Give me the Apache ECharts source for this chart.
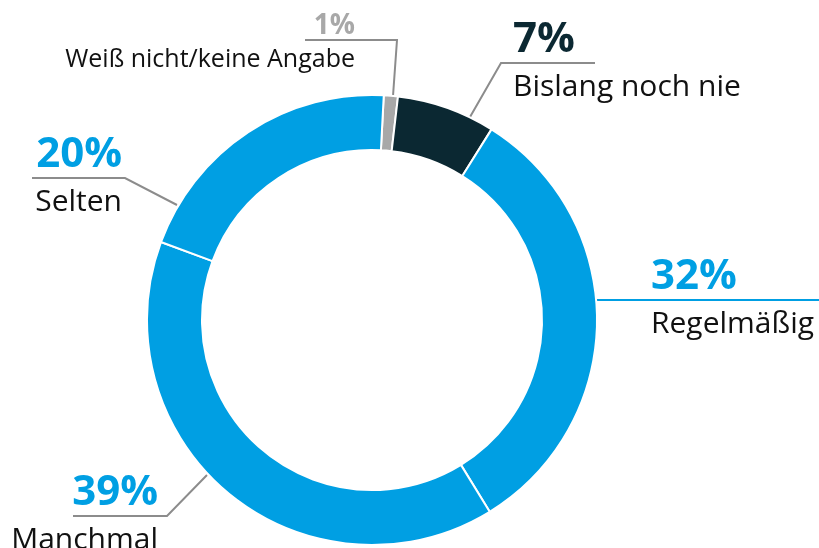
<!DOCTYPE html>
<html>
<head>
<meta charset="utf-8">
<script src="https://cdn.jsdelivr.net/npm/echarts@6/dist/echarts.min.js"></script>
<style>
  html, body { margin: 0; padding: 0; background: #fff; }
  #chart { width: 819px; height: 548px; }
</style>
</head>
<body>
<div id="chart"></div>
<script>
  // Antworten, im Uhrzeigersinn ab oben
  const categories = ['Weiß nicht/keine Angabe', 'Bislang noch nie', 'Regelmäßig', 'Manchmal', 'Selten']
  const percents = [1, 7, 32, 39, 20]
  const sliceColors = ['#a8a8a8', '#0b2832', '#009fe3', '#009fe3', '#009fe3']

  // Beschriftungen: Lage der Linie und des Textes (nur Layout)
  const labelPos = [
    { x: 355, rule: 40, align: 'right', line: [[393, 96], [397, 40], [305, 40]], small: true },
    { x: 513, rule: 63, align: 'left', line: [[470, 117], [501, 63], [595, 63]] },
    { x: 651, rule: 300, align: 'left', line: [[597, 300], [640, 300], [819, 300]] },
    { x: 158, rule: 516, align: 'right', line: [[207, 475], [167, 516], [73, 516]] },
    { x: 122, rule: 178, align: 'right', line: [[177, 205], [125, 178], [32, 178]] }
  ]
  const lineColors = ['#8c8c8c', '#8c8c8c', '#009fe3', '#8c8c8c', '#8c8c8c']

  const font = "'Open Sans', 'Noto Sans', sans-serif"
  const rich = {}
  percents.forEach(function(v, i) {
    const small = labelPos[i].small
    rich['p' + i] = {
      fontFamily: font,
      fontWeight: 'bold',
      fontSize: small ? 28 : 42,
      lineHeight: small ? 35 : 50,
      color: sliceColors[i],
      align: labelPos[i].align
    }
    rich['n' + i] = {
      fontFamily: font,
      fontSize: small ? 25 : 30,
      lineHeight: small ? 32 : 44,
      color: '#111',
      align: labelPos[i].align
    }
  })

  const chart = echarts.init(document.getElementById('chart'))
  chart.setOption({
    animation: false,
    series: [{
      type: 'pie',
      center: [372, 320],
      radius: [170, 225],
      startAngle: 87,
      clockwise: true,
      avoidLabelOverlap: false,
      itemStyle: { borderColor: '#fff', borderWidth: 2 },
      emphasis: { disabled: true },
      label: {
        show: true,
        position: 'outside',
        formatter: function(p) {
          return '{p' + p.dataIndex + '|' + p.value + '%}\n{n' + p.dataIndex + '|' + p.name + '}'
        },
        rich: rich
      },
      labelLine: { show: true, lineStyle: { width: 2 } },
      labelLayout: function(params) {
        const lp = labelPos[params.dataIndex]
        const top = lp.rule - (lp.small ? 31.5 : 48)
        return {
          x: lp.x,
          y: top,
          align: lp.align,
          verticalAlign: 'top',
          labelLinePoints: lp.line
        }
      },
      data: categories.map(function(name, i) {
        return {
          name: name,
          value: percents[i],
          itemStyle: { color: sliceColors[i] },
          labelLine: { lineStyle: { color: lineColors[i], width: 2 } }
        }
      })
    }]
  })
</script>
</body>
</html>
